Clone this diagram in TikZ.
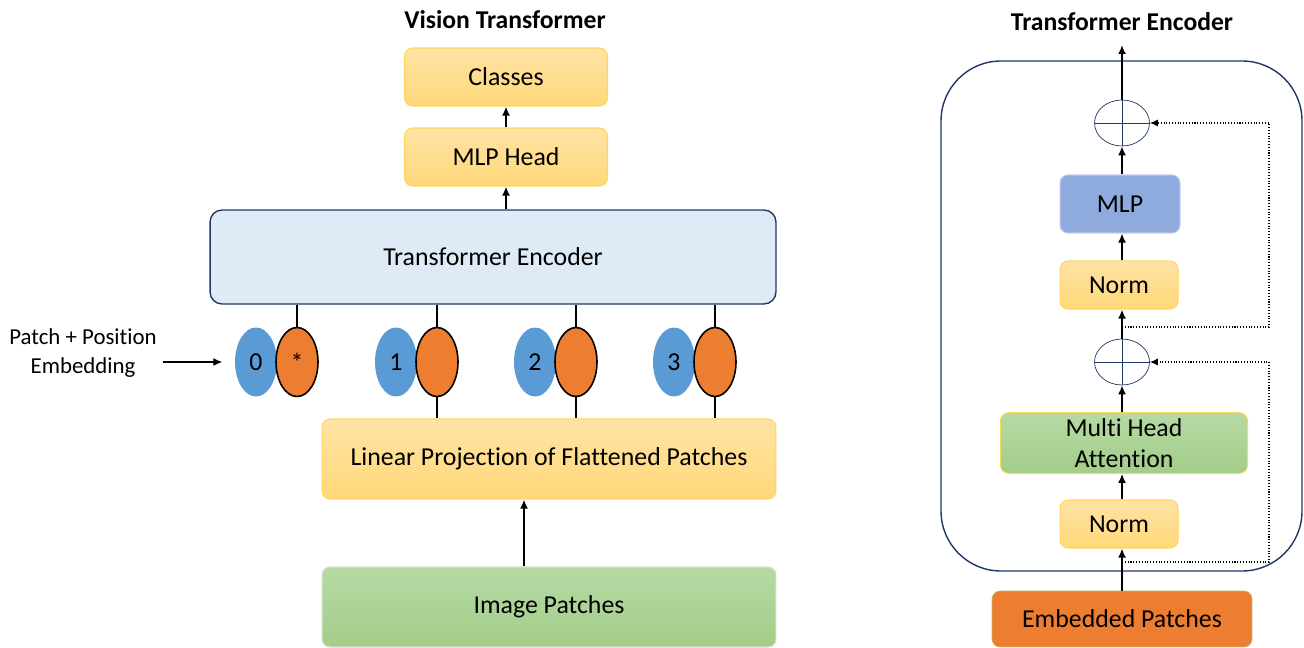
\documentclass[tikz,border=0pt]{standalone}
\usepackage{fontspec}
\setmainfont{Carlito}[Ligatures=NoCommon]
\usepackage{tikz}
\usetikzlibrary{
    arrows.meta,
    positioning,
    shapes.geometric,
    calc
}
\definecolor{boxyellow}{HTML}{FFD878}
\definecolor{boxyellowtop}{HTML}{FFE3A6}
\definecolor{lineyellow}{HTML}{FFD65C}
\definecolor{encblue}{HTML}{DEEBF7}
\definecolor{navy}{HTML}{203864}
\definecolor{patchgreen}{HTML}{A3CD8A}
\definecolor{patchgreentop}{HTML}{B6DAA3}
\definecolor{mlpblue}{HTML}{8FAADC}
\definecolor{embblue}{HTML}{5B9BD5}
\definecolor{emborange}{HTML}{ED7D31}

\begin{document}
\begin{tikzpicture}[
  x=0.02cm, y=-0.02cm,
  font=\fontsize{14.7}{17.5}\selectfont,
  block/.style={rectangle,draw=lineyellow,rounded corners=0.16cm,align=center,
    top color=boxyellowtop,bottom color=boxyellow,line width=0.6pt},
  greenblock/.style={block,draw=patchgreentop!80!black!40,top color=patchgreentop,bottom color=patchgreen},
  title/.style={font=\fontsize{14.6}{17}\selectfont\bfseries},
  token/.style={ellipse,inner sep=0pt,minimum width=0.84cm,minimum height=1.38cm},
  adder/.style={ellipse,draw=navy,inner sep=0pt,minimum width=1.1cm,minimum height=0.92cm,
    path picture={\draw[navy] (path picture bounding box.north) -- (path picture bounding box.south)
      (path picture bounding box.west) -- (path picture bounding box.east);}},
  arrow/.style={-{Latex[length=1.8mm,width=1.6mm]},line width=1.1pt},
  skip/.style={-{Latex[length=1.6mm,width=1.4mm]},densely dotted,line width=0.6pt}
]
\useasboundingbox (0,0) rectangle (1304,648);

% Vision Transformer
\node[title] (vtitle) at (505,20) {Vision Transformer};
\node[block,minimum width=4.06cm,minimum height=1.16cm] (classes) at (506,77) {Classes};
\node[block,minimum width=4.06cm,minimum height=1.16cm] (head) at (506,157) {MLP Head};
\node[rectangle,draw=navy,fill=encblue,rounded corners=0.24cm,line width=0.8pt,
  minimum width=11.32cm,minimum height=1.88cm] (enc) at (493,257) {Transformer Encoder};
\node[block,minimum width=9.08cm,minimum height=1.6cm] (proj) at (549,459)
  {Linear Projection of Flattened Patches};
\node[greenblock,minimum width=9.08cm,minimum height=1.6cm] (patches) at (549,607) {Image Patches};
\node[align=center,font=\fontsize{13}{16}\selectfont] (ppe) at (83,353) {Patch + Position\\Embedding};

\foreach \i/\x/\lab in {0/297/*,1/437/,2/576/,3/715/}{
  \node[token,fill=embblue] (b\i) at (\x-41,362) {\i};
  \node[token,fill=emborange,draw=black,line width=0.9pt] (o\i) at (\x,362) {\lab};
  \draw[line width=0.9pt] (o\i.north) -- (o\i.north |- enc.south);
}
\foreach \i in {1,2,3}
  \draw[line width=0.9pt] (o\i.south) -- (o\i.south |- proj.north);

\draw[arrow] (head) -- (classes);
\draw[arrow] (enc.north -| head) -- (head);
\draw[arrow] ($(patches.north)+(-25,0)$) -- ($(proj.south)+(-25,0)$);
\draw[arrow,line width=0.8pt,shorten >=7pt] (ppe.east |- b0.west) -- (b0.west);

% Transformer Encoder detail
\node[title] (etitle) at (1122,22) {Transformer Encoder};
\draw[navy,line width=0.8pt,rounded corners=1.2cm] (941,61) rectangle (1302,571);
\node[rectangle,draw=lineyellow!60!gray,fill=emborange,rounded corners=0.16cm,
  minimum width=5.2cm,minimum height=1.12cm] (emb) at (1122,619) {Embedded Patches};
\node[block,minimum width=2.36cm,minimum height=0.96cm] (norm1) at (1119,524) {Norm};
\node[greenblock,draw=lineyellow,minimum width=4.94cm,minimum height=1.16cm] (mha) at (1124,443)
  {Multi Head\\Attention};
\node[adder] (add1) at (1122,362) {};
\node[block,minimum width=2.36cm,minimum height=0.96cm] (norm2) at (1119,285) {Norm};
\node[block,draw=mlpblue!60!white,top color=mlpblue,bottom color=mlpblue,
  minimum width=2.4cm,minimum height=1.16cm] (mlp) at (1120,204) {MLP};
\node[adder] (add2) at (1122,123) {};
\coordinate (out) at (1122,45);
\coordinate (res1) at (1122,562);
\coordinate (res2) at (1122,327);

\draw[arrow] (emb.north -| add1) -- (norm1.south -| add1);
\draw[arrow] (norm1.north -| add1) -- (mha.south -| add1);
\draw[arrow] (mha.north -| add1) -- (add1.south);
\draw[arrow] (add1.north) -- (norm2.south -| add1);
\draw[arrow] (norm2.north -| add1) -- (mlp.south -| add1);
\draw[arrow] (mlp.north -| add1) -- (add2.south);
\draw[arrow] (add2.north) -- (out);

\draw[skip] (res1) -- ++(147,0) |- (add1.east);
\draw[skip] (res2) -- ++(147,0) |- (add2.east);
\end{tikzpicture}
\end{document}
